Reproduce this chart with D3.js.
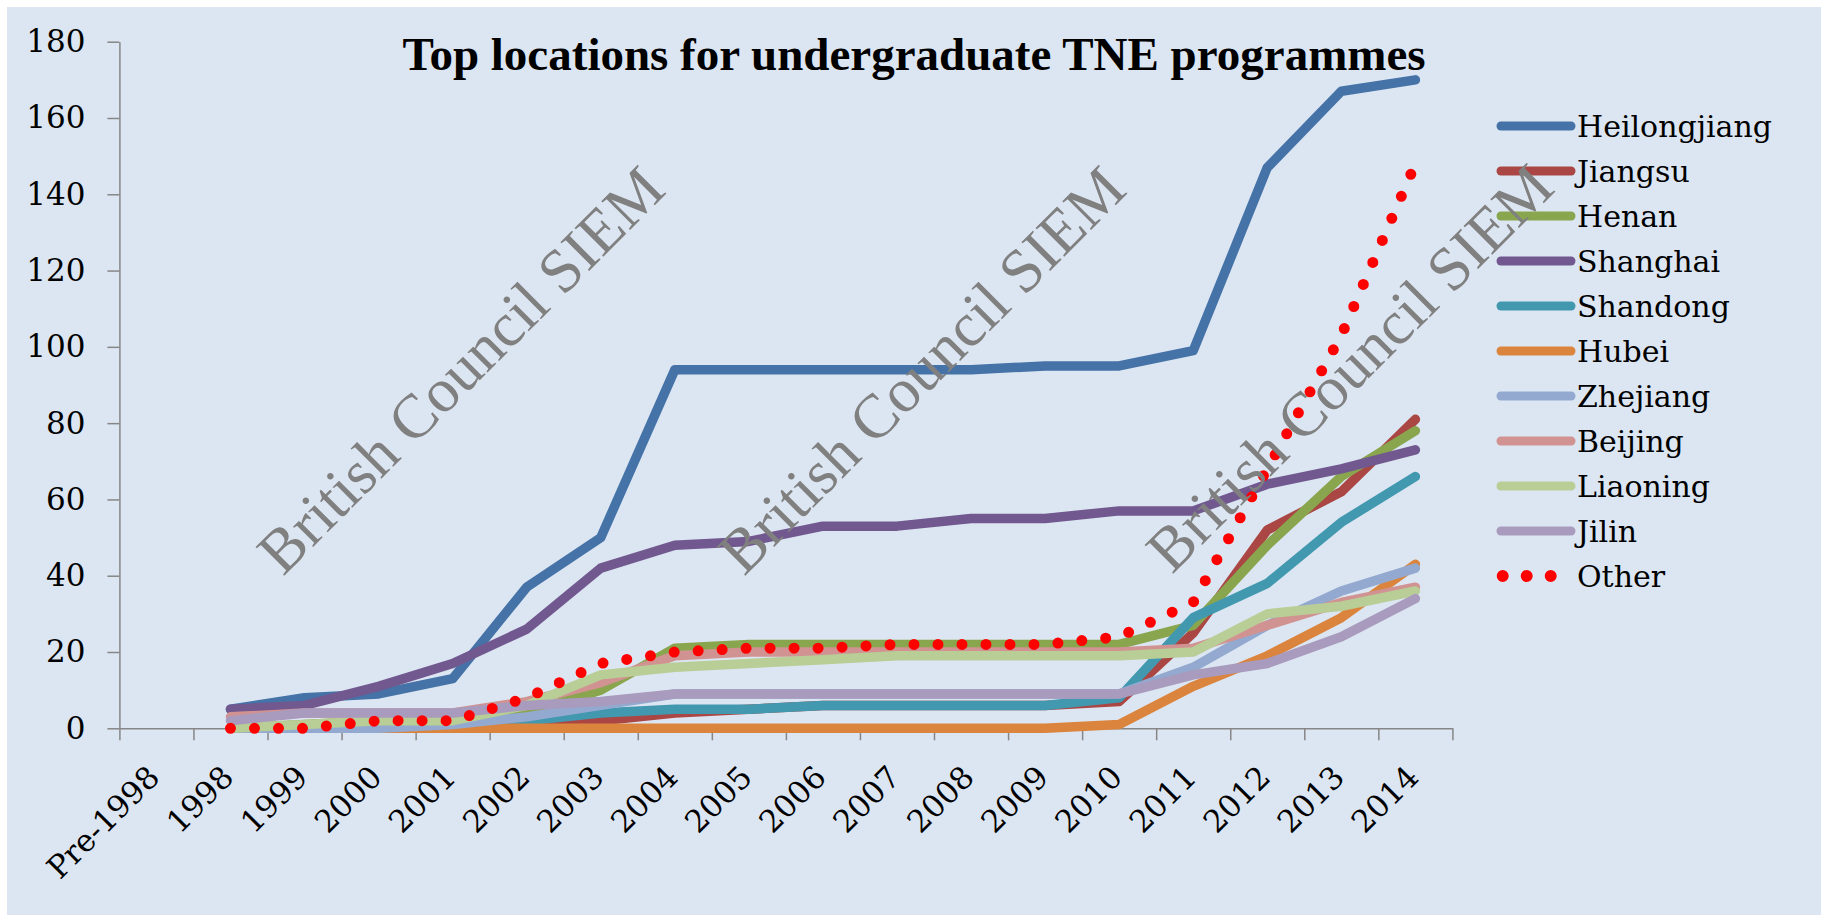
<!DOCTYPE html>
<html lang="en">
<head>
<meta charset="UTF-8">
<title>Top locations for undergraduate TNE programmes</title>
<script src="https://d3js.org/d3.v7.min.js"></script>
<style>
  body { margin: 0; background: #fff; }
  svg { display: block; }
  .axis path, .axis line { stroke: #868686; stroke-width: 1.5; }
  .axis text { font-family: "DejaVu Serif", serif; font-size: 31px; fill: #000; }
  .xlabel { font-family: "DejaVu Serif", serif; font-size: 31px; fill: #000; }
  .legend text { font-family: "DejaVu Serif", serif; font-size: 30px; fill: #000; }
  .title { font-family: "Liberation Serif", serif; font-weight: bold; font-size: 47px; }
  .mark { font-family: "Liberation Serif", serif; font-size: 62px; fill: #808080; }
</style>
</head>
<body>
<svg width="1825" height="915"></svg>
<script>
// categories (x axis)
var categories = ["Pre-1998", "1998", "1999", "2000", "2001", "2002", "2003", "2004", "2005",
  "2006", "2007", "2008", "2009", "2010", "2011", "2012", "2013", "2014"];

// series values, one per category (null = no value)
var heilongjiang = [null, 5, 8, 9, 13, 37, 50, 94, 94, 94, 94, 94, 95, 95, 99, 147, 167, 170];
var jiangsu      = [null, 0, 0, 1, 1, 1, 2, 4, 5, 6, 6, 6, 6, 7, 25, 52, 62, 81];
var henan        = [null, 0, 1, 2, 2, 4, 10, 21, 22, 22, 22, 22, 22, 22, 27, 48, 66, 78];
var shanghai     = [null, 5, 6, 11, 17, 26, 42, 48, 49, 53, 53, 55, 55, 57, 57, 64, 68, 73];
var shandong     = [null, 0, 0, 0, 1, 2, 4, 5, 5, 6, 6, 6, 6, 8, 29, 38, 54, 66];
var hubei        = [null, 0, 0, 0, 0, 0, 0, 0, 0, 0, 0, 0, 0, 1, 11, 19, 29, 43];
var zhejiang     = [null, 0, 0, 0, 1, 3, 6, 9, 9, 9, 9, 9, 9, 9, 16, 27, 36, 42];
var beijing      = [null, 3, 4, 4, 4, 7, 12, 19, 20, 20, 20, 20, 20, 20, 21, 27, 33, 37];
var liaoning     = [null, 0, 1, 2, 2, 6, 14, 16, 17, 18, 19, 19, 19, 19, 20, 30, 32, 36];
var jilin        = [null, 2, 4, 4, 4, 6, 7, 9, 9, 9, 9, 9, 9, 9, 14, 17, 24, 34];
var other        = [null, 0, 0, 2, 2, 8, 17, 20, 21, 21, 22, 22, 22, 24, 33, 68, 103, 148];

var names = ["Heilongjiang", "Jiangsu", "Henan", "Shanghai", "Shandong", "Hubei",
  "Zhejiang", "Beijing", "Liaoning", "Jilin", "Other"];
var values = [heilongjiang, jiangsu, henan, shanghai, shandong, hubei,
  zhejiang, beijing, liaoning, jilin, other];
var colors = ["#4572a7", "#aa4643", "#89a54e", "#71588f", "#4198af", "#db843d",
  "#93a9cf", "#d19392", "#b9cd96", "#a99bbd", "#ff0000"];

var yTicks = [0, 20, 40, 60, 80, 100, 120, 140, 160, 180];

var svg = d3.select("svg");

// chart area background
svg.append("rect")
  .attr("x", 7).attr("y", 7)
  .attr("width", 1814).attr("height", 908)
  .attr("fill", "#dce6f2");

var plotLeft = 119.4, plotRight = 1452.4, plotTop = 41.7, plotBottom = 728.3;

var x = d3.scaleBand()
  .domain(categories)
  .range([plotLeft, plotRight])
  .padding(0);

// boundaries between categories, for the tick marks
var xEdges = d3.scaleLinear()
  .domain([0, categories.length])
  .range([plotLeft, plotRight]);

var y = d3.scaleLinear()
  .domain([0, 180])
  .range([plotBottom, plotTop]);

// title
svg.append("text")
  .attr("class", "title")
  .attr("x", 914)
  .attr("y", 70)
  .attr("text-anchor", "middle")
  .text("Top locations for undergraduate TNE programmes");

// y axis
svg.append("g")
  .attr("class", "axis")
  .attr("transform", "translate(" + plotLeft + ",0)")
  .call(d3.axisLeft(y).tickValues(yTicks).tickSize(12).tickSizeOuter(0).tickPadding(22));

// x axis (ticks on category edges)
svg.append("g")
  .attr("class", "axis")
  .attr("transform", "translate(0," + plotBottom + ")")
  .call(d3.axisBottom(xEdges).tickValues(d3.range(categories.length + 1))
    .tickSize(12).tickSizeOuter(0).tickFormat(""));

// rotated category labels
svg.append("g")
  .selectAll("text")
  .data(categories)
  .enter()
  .append("text")
  .attr("class", "xlabel")
  .attr("text-anchor", "end")
  .attr("transform", function(d) {
    return "translate(" + (x(d) + x.bandwidth() / 2 + 5) + "," + 779 + ") rotate(-45)";
  })
  .text(function(d) { return d; });

// lines
var line = d3.line()
  .defined(function(d) { return d != null; })
  .x(function(d, i) { return x(categories[i]) + x.bandwidth() / 2; })
  .y(function(d) { return y(d); });

svg.append("g")
  .selectAll("path")
  .data(values)
  .enter()
  .append("path")
  .attr("d", line)
  .attr("fill", "none")
  .attr("stroke", function(d, i) { return colors[i]; })
  .attr("stroke-width", function(d, i) { return names[i] == "Other" ? 11 : 9.5; })
  .attr("stroke-linecap", "round")
  .attr("stroke-linejoin", "round")
  .attr("stroke-dasharray", function(d, i) { return names[i] == "Other" ? "0 24" : null; });

// legend
var legend = svg.append("g").attr("class", "legend");
names.forEach(function(n, i) {
  var ly = 126 + 45 * i;
  if (n == "Other") {
    legend.append("path")
      .attr("d", "M1502.7," + ly + "H1551")
      .attr("stroke", colors[i]).attr("stroke-width", 12)
      .attr("stroke-linecap", "round").attr("stroke-dasharray", "0 24");
  } else {
    legend.append("path")
      .attr("d", "M1501," + ly + "H1571")
      .attr("stroke", colors[i]).attr("stroke-width", 9)
      .attr("stroke-linecap", "round");
  }
  legend.append("text")
    .attr("x", 1577)
    .attr("y", ly + 11)
    .text(n);
});

// watermark, drawn on top
var marks = [[283, 577], [744, 577], [1172, 575]];
svg.append("g")
  .selectAll("text")
  .data(marks)
  .enter()
  .append("text")
  .attr("class", "mark")
  .attr("transform", function(d) { return "translate(" + d[0] + "," + d[1] + ") rotate(-45)"; })
  .text("British Council SIEM");
</script>
</body>
</html>
